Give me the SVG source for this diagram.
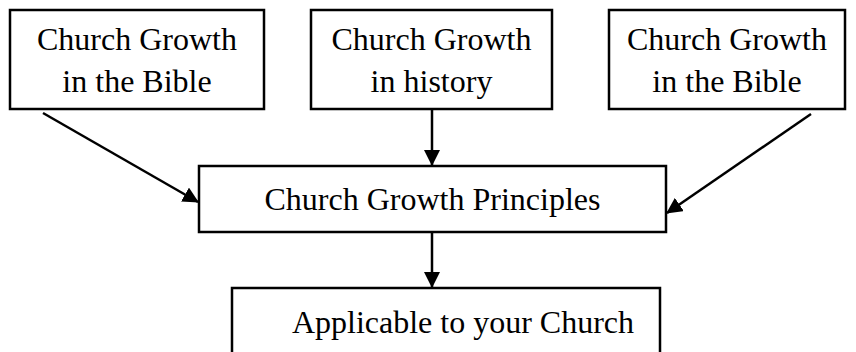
<svg xmlns="http://www.w3.org/2000/svg" width="856" height="352" viewBox="0 0 856 352">
<style>
.box{fill:#fff;stroke:#000;stroke-width:2.5}
.t{font-family:"Liberation Serif","Times New Roman",serif;font-size:32px;fill:#000;text-anchor:middle}
.c{stroke:#000;stroke-width:2.5;fill:none;marker-end:url(#ah)}
</style>
<defs>
<marker id="ah" markerWidth="16" markerHeight="16" refX="15" refY="8" orient="auto" markerUnits="userSpaceOnUse">
<path d="M0,0 L16,8 L0,16 Z" fill="#000"/>
</marker>
</defs>
<rect width="856" height="352" fill="#fff"/>
<g id="n1"><rect class="box" x="10" y="10" width="254" height="99"/><text class="t" x="137" y="50">Church Growth</text><text class="t" x="137" y="92">in the Bible</text></g>
<g id="n2"><rect class="box" x="311" y="10" width="241" height="99"/><text class="t" x="431.5" y="50">Church Growth</text><text class="t" x="431.5" y="92">in history</text></g>
<g id="n3"><rect class="box" x="609" y="10" width="236" height="99"/><text class="t" x="727" y="50">Church Growth</text><text class="t" x="727" y="92">in the Bible</text></g>
<g id="n4"><rect class="box" x="199" y="166" width="467" height="66"/><text class="t" x="432.5" y="210">Church Growth Principles</text></g>
<g id="n5"><rect class="box" x="232" y="288" width="428" height="66"/><text class="t" x="463" y="333">Applicable to your Church</text></g>
<g id="connectors">
<line class="c" x1="432" y1="110" x2="432" y2="165"/>
<line class="c" x1="43" y1="113" x2="198" y2="202"/>
<line class="c" x1="811" y1="114" x2="667" y2="213"/>
<line class="c" x1="432" y1="232" x2="432" y2="287"/>
</g>
</svg>
